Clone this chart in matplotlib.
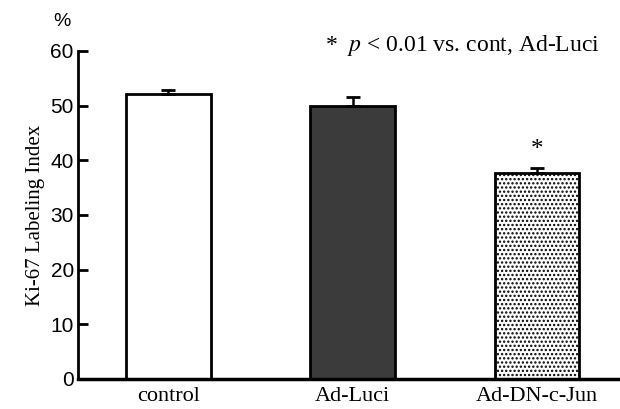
import numpy as np
import matplotlib as mpl
mpl.use('Agg')
import matplotlib.pyplot as plt
from matplotlib import ticker

plt.rcParams['mathtext.fontset'] = 'stix'
plt.rcParams['hatch.linewidth'] = 1.1

groups = ['control', 'Ad-Luci', 'Ad-DN-c-Jun']
means = [52.1, 49.9, 37.7]
errs = [0.7, 1.7, 0.9]
signif = [False, False, True]
yticks = [0, 10, 20, 30, 40, 50, 60]

fig = plt.figure(figsize=(6.2, 4.09), dpi=100)
# axes placed to match the scanned layout (pixels / figure size)
ax = fig.add_axes([78 / 620, 30 / 409, (620 - 78) / 620, (379 - 51) / 409])

x = np.arange(len(groups))
faces = ['white', '#3b3b3b', 'white']
hatches = [None, None, '....']
for i in range(len(groups)):
    ax.bar(x[i], means[i], width=0.46, color=faces[i], edgecolor='black',
           hatch=hatches[i], lw=2, zorder=2)
ax.errorbar(x, means, yerr=[np.zeros(len(errs)), errs], fmt='none',
            ecolor='black', elinewidth=1.8, capsize=5, capthick=2, zorder=3)
for i in range(len(groups)):
    if signif[i]:
        ax.text(x[i], means[i] + errs[i] + 1.2, '*', ha='center', va='bottom',
                fontsize=18, family='Liberation Serif')

ax.set_xlim(-0.49, 2.45)
ax.set_ylim(0, 60)
ax.spines['top'].set_visible(False)
ax.spines['right'].set_visible(False)
ax.spines['left'].set_linewidth(2)
ax.spines['bottom'].set_linewidth(2.5)
ax.yaxis.set_major_locator(ticker.FixedLocator(yticks))
ax.tick_params('y', direction='in', length=7, width=2, labelsize=15, pad=3)
for lab in ax.get_yticklabels():
    lab.set_family('Liberation Sans')
ax.set_xticks(x)
ax.set_xticklabels(groups, family='Liberation Serif', fontsize=16)
ax.tick_params('x', length=0, pad=6)

ax.set_ylabel('Ki-67 Labeling Index', family='Liberation Serif', fontsize=15, labelpad=4)
fig.text(53 / 620, 1 - 21 / 409, '%', family='Liberation Sans', fontsize=14,
         va='center', ha='left')
fig.text(325 / 620, 1 - 45 / 409, '*  $p$ < 0.01 vs. cont, Ad-Luci',
         family='Liberation Serif', fontsize=17, va='center', ha='left')

plt.savefig('out.png', dpi=100)
